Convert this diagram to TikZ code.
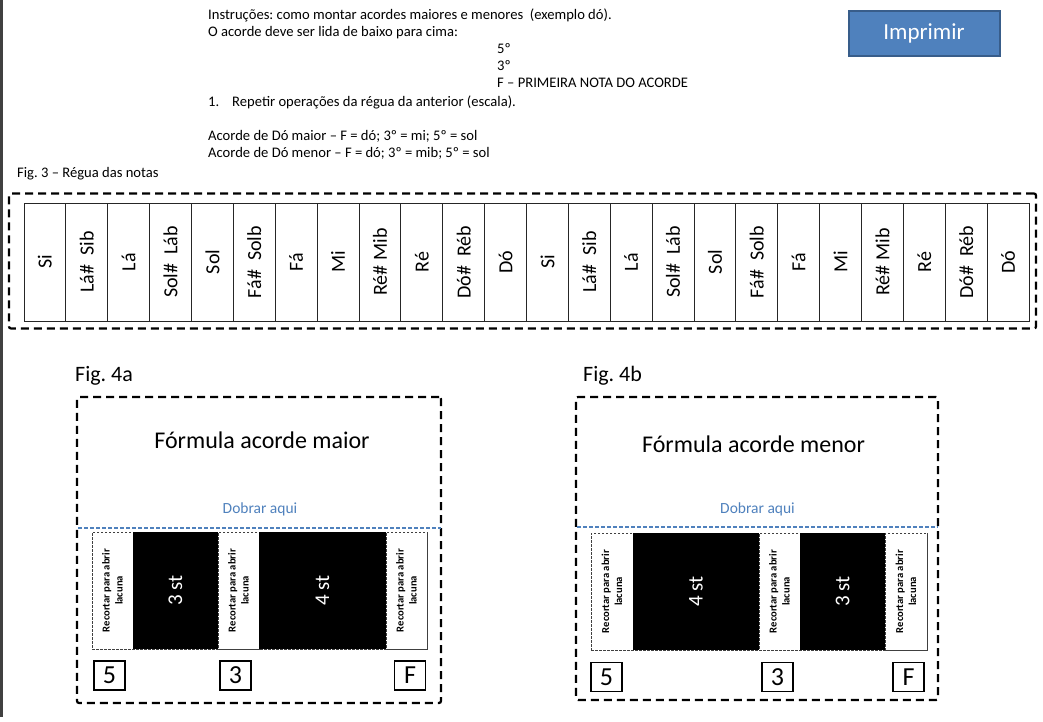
\documentclass[tikz,border=0pt]{standalone}
\usepackage{fontspec}
\setmainfont{Carlito}
\frenchspacing
\definecolor{dobrar}{HTML}{4F81BD}
\definecolor{btnfill}{HTML}{4F81BD}
\definecolor{btnedge}{HTML}{385D8A}
\begin{document}
\begin{tikzpicture}[x=1pt,y=-1pt,
  txt/.style={anchor=base west,inner sep=0,font=\fontsize{14.6}{17}\selectfont},
  outerdash/.style={draw=black,line width=2.2pt,dash pattern=on 8pt off 5pt,rounded corners=2pt},
  notecell/.style={draw=black!85,line width=0.9pt,minimum width=41.875pt,minimum height=118pt,inner sep=0},
  notelbl/.style={rotate=90,inner sep=0,font=\fontsize{20}{22}\selectfont},
  cutbox/.style={draw=black!75,line width=0.7pt,dash pattern=on 2.5pt off 1.5pt,fill=white,inner sep=0},
  cutlbl/.style={rotate=90,align=center,inner sep=0,font=\fontsize{10.6}{13}\selectfont\bfseries},
  stbox/.style={fill=black,inner sep=0},
  stlbl/.style={rotate=90,text=white,inner sep=0,font=\fontsize{21}{24}\selectfont},
  numbox/.style={draw=black,line width=1.9pt,minimum width=31pt,minimum height=29pt,inner sep=0,font=\fontsize{26}{28}\selectfont},
  titlelbl/.style={anchor=base,inner sep=0,font=\fontsize{24}{28}\selectfont},
  foldlbl/.style={anchor=base,inner sep=0,text=dobrar,font=\fontsize{15.5}{18}\selectfont},
  foldline/.style={draw=dobrar,line width=1.2pt,dash pattern=on 4pt off 2pt},
  figlbl/.style={anchor=base west,inner sep=0,font=\fontsize{22}{26}\selectfont}
]
\useasboundingbox (0,0) rectangle (1043,721);
\fill[white] (0,0) rectangle (1043,721);
% left page edge
\fill[black!75] (0,0) rectangle (3,717);

% instructions
\node[txt] (t1) at (208,19) {Instruções: como montar acordes maiores e menores\ \ (exemplo dó).};
\node[txt] (t2) at (208,36) {O acorde deve ser lida de baixo para cima:};
\node[txt] (t3) at (497,53) {5º};
\node[txt] (t4) at (497,70) {3º};
\node[txt] (t5) at (497,87) {F – PRIMEIRA NOTA DO ACORDE};
\node[txt] (t6n) at (208,106) {1.};
\node[txt] (t6) at (232,106) {Repetir operações da régua da anterior (escala).};
\node[txt] (t7) at (208,140) {Acorde de Dó maior – F = dó; 3º = mi; 5º = sol};
\node[txt] (t8) at (208,157) {Acorde de Dó menor – F = dó; 3º = mib; 5º = sol};
\node[txt] (fig3) at (17,177) {Fig. 3 – Régua das notas};

% button
\node[draw=btnedge,fill=btnfill,line width=2pt,minimum width=151pt,minimum height=45pt,inner sep=0,
  text=white,font=\fontsize{23}{26}\selectfont] (btn) at (924,33) {Imprimir};

% ruler
\node[outerdash,minimum width=1027pt,minimum height=135pt,inner sep=0] (ruler) at (522.5,261) {};
\foreach \t [count=\i] in {Si,{Lá\#\ \ Sib},Lá,{Sol\#\ \ Láb},Sol,{Fá\#\ \ Solb},Fá,Mi,{Ré\# Mib},Ré,{Dó\#\ \ Réb},Dó,
                          Si,{Lá\#\ \ Sib},Lá,{Sol\#\ \ Láb},Sol,{Fá\#\ \ Solb},Fá,Mi,{Ré\# Mib},Ré,{Dó\#\ \ Réb},Dó}{
  \node[notecell] (c\i) at ({24+41.875*(\i-0.5)},262) {};
  \node[notelbl] (l\i) at (c\i.center) {\t};
}

% Fig 4a
\node[figlbl] (fig4a) at (75,381) {Fig. 4a};
\node[outerdash,minimum width=364pt,minimum height=306pt,inner sep=0] (boxa) at (259,550) {};
\node[titlelbl] (tita) at (262,448) {Fórmula acorde maior};
\node[foldlbl] (folda) at (260,513) {Dobrar aqui};
\coordinate (fa1) at (78,528);
\coordinate (fa2) at (441,528);
\draw[foldline] (fa1) -- (fa2);
\node[cutbox,minimum width=335pt,minimum height=117pt] (stripa) at (259.5,590.5) {};
\node[cutbox,minimum width=41pt,minimum height=117pt] (ca1) at (112.5,590.5) {};
\node[cutbox,minimum width=41pt,minimum height=117pt] (ca2) at (238.5,590.5) {};
\node[cutbox,minimum width=41pt,minimum height=117pt] (ca3) at (406.5,590.5) {};
\foreach \c in {ca1,ca2,ca3}{\node[cutlbl] at (\c.center) {Recortar para abrir\\lacuna};}
\node[stbox,minimum width=85pt,minimum height=117pt] (ba1) at (175.5,590.5) {};
\node[stbox,minimum width=127pt,minimum height=117pt] (ba2) at (322.5,590.5) {};
\node[stlbl] at (ba1.center) {3 st};
\node[stlbl] at (ba2.center) {4 st};
\node[numbox] (na5) at (109.5,675.5) {5};
\node[numbox] (na3) at (235.5,675.5) {3};
\node[numbox] (naF) at (410,675.5) {F};

% Fig 4b
\node[figlbl] (fig4b) at (583,381) {Fig. 4b};
\node[outerdash,minimum width=362pt,minimum height=303pt,inner sep=0] (boxb) at (757,548.5) {};
\node[titlelbl] (titb) at (753.5,452) {Fórmula acorde menor};
\node[foldlbl] (foldb) at (757.5,513) {Dobrar aqui};
\coordinate (fb1) at (577,527);
\coordinate (fb2) at (938,527);
\draw[foldline] (fb1) -- (fb2);
\node[cutbox,minimum width=336pt,minimum height=117pt] (stripb) at (759,591.5) {};
\node[cutbox,minimum width=42pt,minimum height=117pt] (cb1) at (612,591.5) {};
\node[cutbox,minimum width=41pt,minimum height=117pt] (cb2) at (779.5,591.5) {};
\node[cutbox,minimum width=42pt,minimum height=117pt] (cb3) at (906,591.5) {};
\foreach \c in {cb1,cb2,cb3}{\node[cutlbl] at (\c.center) {Recortar para abrir\\lacuna};}
\node[stbox,minimum width=126pt,minimum height=117pt] (bb1) at (696,591.5) {};
\node[stbox,minimum width=85pt,minimum height=117pt] (bb2) at (842.5,591.5) {};
\node[stlbl] at (bb1.center) {4 st};
\node[stlbl] at (bb2.center) {3 st};
\node[numbox] (nb5) at (606.5,677) {5};
\node[numbox] (nb3) at (777.5,677) {3};
\node[numbox] (nbF) at (908.5,677) {F};
\end{tikzpicture}
\end{document}
